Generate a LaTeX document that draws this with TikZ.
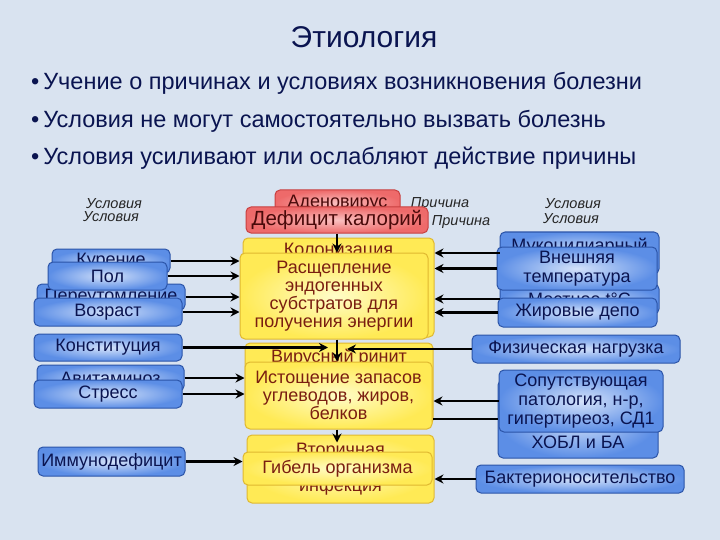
\documentclass[tikz,border=0pt]{standalone}
\usepackage{fontspec}
\setmainfont{Liberation Sans}
\usetikzlibrary{arrows.meta,calc}
\definecolor{bg}{HTML}{D9E3F0}
\definecolor{navy}{HTML}{0A1450}
\definecolor{bin}{HTML}{D4E2FA}
\definecolor{bout}{HTML}{5C8EE6}
\definecolor{bborder}{HTML}{2B54A8}
\definecolor{yin}{HTML}{FFFCC8}
\definecolor{yout}{HTML}{FFEA55}
\definecolor{yborder}{HTML}{E0B830}
\definecolor{ytext}{HTML}{7A1E10}
\definecolor{rin}{HTML}{FAC0C0}
\definecolor{rout}{HTML}{EE6A6A}
\definecolor{rborder}{HTML}{C84040}
\definecolor{rtext}{HTML}{4A0A0A}
\begin{document}
\begin{tikzpicture}[x=1pt,y=-1pt,
  sz/.style 2 args={minimum width=#1pt,minimum height=#2pt},
  boxbase/.style={rounded corners=5pt,line width=1pt,inner sep=0pt,align=center},
  bfont/.style={font=\fontsize{18}{19}\selectfont},
  yfont/.style={font=\fontsize{18}{18.2}\selectfont},
  bbox/.style={boxbase,draw=bborder,inner color=bin,outer color=bout,text=navy,bfont},
  ybox/.style={boxbase,draw=yborder,inner color=yin,outer color=yout,text=ytext,yfont},
  rbox/.style={boxbase,draw=rborder,inner color=rin,outer color=rout,text=rtext},
  ital/.style={font=\fontsize{14.5}{15}\selectfont\itshape,text=black!85,inner sep=0pt},
  bul/.style={anchor=west,font=\fontsize{23.5}{25}\selectfont,text=navy,inner sep=0pt},
  arr/.style={line width=2.4pt,-{Stealth[length=9pt,width=9pt,inset=3pt]}},
  ln/.style={line width=2.4pt}]
\fill[bg] (0,0) rectangle (720,540);
\useasboundingbox (0,0) rectangle (720,540);
% title and bullets
\node[font=\fontsize{30}{32}\selectfont,text=navy] (title) at (364,37) {Этиология};
\node[bul] (b1) at (31,83) {•\,Учение о причинах и условиях возникновения болезни};
\node[bul] (b2) at (31,121) {•\,Условия не могут самостоятельно вызвать болезнь};
\node[bul] (b3) at (31,158) {•\,Условия усиливают или ослабляют действие причины};
% italic labels
\node[ital] (u1a) at (114,204) {Условия};
\node[ital] (u1b) at (111,217) {Условия};
\node[ital] (p1) at (440,204) {Причина};
\node[ital] (p2) at (461,222) {Причина};
\node[ital] (u2a) at (573,204) {Условия};
\node[ital] (u2b) at (571,219) {Условия};
% back layer
\node[bbox,sz={118}{24}] (kur) at (111,261) {Курение};
\node[bbox,sz={148}{26}] (per) at (111,297) {Переутомление};
\node[bbox,sz={147}{26}] (avi) at (110.5,378) {Авитаминоз};
\node[rbox,sz={125}{26},font=\fontsize{18}{19}\selectfont] (aden) at (337.5,203) {Аденовирус};
\node[ybox,sz={191}{99},label={[anchor=north,yshift=-2pt,text=ytext,yfont]north:Колонизация}] (kol) at (338.5,287.5) {};
\node[ybox,sz={188}{82},label={[anchor=north,yshift=-3pt,text=ytext,yfont]north:Вирусный ринит}] (vir) at (339,384) {};
\node[ybox,sz={187}{68},label={[anchor=north,yshift=-5pt,text=ytext,yfont]north:Вторичная},label={[anchor=south,yshift=5pt,text=ytext,yfont]south:инфекция}] (vto) at (340.5,469) {};
\node[bbox,sz={159}{42},label={[anchor=north,yshift=-3pt,text=navy,bfont]north:Мукоцилиарный}] (muk) at (579.5,253) {};
\node[bbox,sz={159}{30}] (mes) at (579.5,299) {Местное t°C};
\node[bbox,sz={160}{78},label={[anchor=south,yshift=6pt,text=navy,bfont]south:ХОБЛ и БА}] (hob) at (578,419) {};
% front layer
\node[bbox,sz={119}{28}] (pol) at (107.5,276) {Пол};
\node[bbox,sz={148}{28}] (voz) at (108,312) {Возраст};
\node[bbox,sz={148}{27}] (kon) at (108,347.5) {Конституция};
\node[bbox,sz={148}{28}] (str) at (108,394) {Стресс};
\node[bbox,sz={147}{29}] (imm) at (111.5,461.5) {Иммунодефицит};
\node[rbox,sz={182}{26},font=\fontsize{20.5}{21}\selectfont] (def) at (337,220) {Дефицит калорий};
\node[ybox,sz={188}{86}] (ras) at (334,296) {Расщепление\\эндогенных\\субстратов для\\получения энергии};
\node[ybox,sz={187}{67}] (ist) at (338.5,395.5) {Истощение запасов\\углеводов, жиров,\\белков};
\node[ybox,sz={189}{33}] (gib) at (337.5,468.5) {Гибель организма};
\node[bbox,sz={160}{43}] (vne) at (577,268.5) {Внешняя\\температура};
\node[bbox,sz={159}{29}] (jir) at (577.5,312.5) {Жировые депо};
\node[bbox,sz={208}{28}] (fiz) at (576,349) {Физическая нагрузка};
\node[bbox,sz={164}{62}] (sop) at (581,401) {Сопутствующая\\патология, н-р,\\гипертиреоз, СД1};
\node[bbox,sz={208}{28}] (bak) at (580,479) {Бактерионосительство};
% connectors left
\foreach \n in {kur,pol,per,voz}{\draw[arr] (\n.east) -- (\n.east -| ras.west);}
\foreach \n in {avi,str}{\draw[arr] (\n.east) -- (\n.east -| ist.west);}
\draw[arr] (imm.east) -- (imm.east -| gib.west);
\draw[arr] (kon.east) -- ($(kon.east -| def.south)+(-9,0)$);
% connectors right
\foreach \n in {muk,vne,mes,jir}{\draw[arr] (\n.west) -- (\n.west -| kol.east);}
\draw[arr] (sop.west) -- (sop.west -| vir.east);
\draw[ln] (hob.west) -- (hob.west -| ist.east);
\draw[arr] (bak.west) -- (bak.west -| vto.east);
\draw[arr] (fiz.west) -- ($(fiz.west -| def.south)+(10,0)$);
% vertical connectors
\draw[arr] (def.south) -- ($(def.south)+(0,19)$);
\draw[arr] (def.south |- ras.south) -- (def.south |- ist.north);
\draw[arr] (def.south |- ist.south) -- ($(def.south |- ist.south)+(0,13)$);
\end{tikzpicture}
\end{document}
